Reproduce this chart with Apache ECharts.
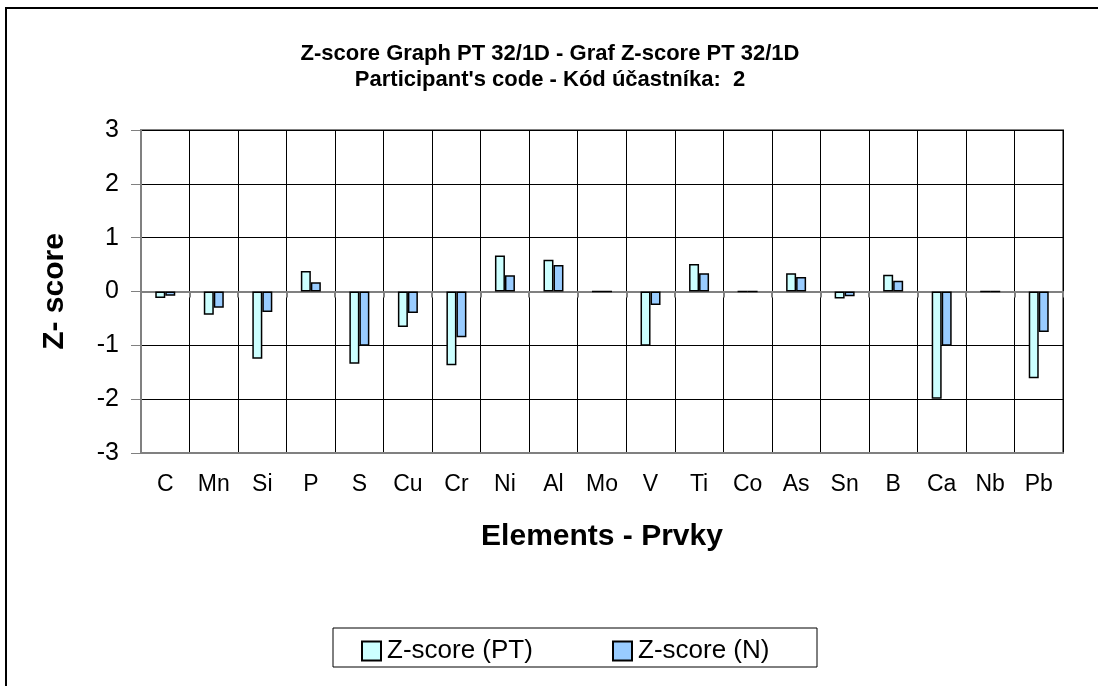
<!DOCTYPE html>
<html>
<head>
<meta charset="utf-8">
<script src="https://cdn.jsdelivr.net/npm/echarts@6/dist/echarts.min.js"></script>
<style>
html, body { margin: 0; padding: 0; background: #fff; }
#chart { width: 1098px; height: 686px; }
</style>
</head>
<body>
<div id="chart"></div>
<script>
const elements = ["C", "Mn", "Si", "P", "S", "Cu", "Cr", "Ni", "Al", "Mo", "V", "Ti", "Co", "As", "Sn", "B", "Ca", "Nb", "Pb"];
const zscorePT = [-0.12, -0.43, -1.25, 0.38, -1.34, -0.66, -1.37, 0.67, 0.59, 0, -1.01, 0.51, 0, 0.34, -0.13, 0.31, -1.99, 0, -1.61];
const zscoreN = [-0.08, -0.30, -0.38, 0.17, -1.01, -0.40, -0.85, 0.30, 0.49, 0, -0.25, 0.34, 0, 0.27, -0.09, 0.20, -1.01, 0, -0.75];
const yTicks = [-3, -2, -1, 0, 1, 2, 3];

const font = "Liberation Sans, Arial, sans-serif";
const chart = echarts.init(document.getElementById("chart"));

const legendText = {
	fontFamily: font,
	fontSize: 26,
	color: "#000",
	padding: [0, 0, 0, 1]
};

chart.setOption({
	animation: false,
	title: {
		text: "Z-score Graph PT 32/1D - Graf Z-score PT 32/1D\nParticipant's code - Kód účastníka:  2",
		left: 545,
		textAlign: "center",
		top: 36,
		textStyle: {
			fontFamily: font,
			fontSize: 22,
			fontWeight: "bold",
			color: "#000",
			lineHeight: 26
		}
	},
	graphic: [
		{
			type: "rect",
			shape: { x: 6, y: 8, width: 1120, height: 720 },
			style: { fill: null, stroke: "#000", lineWidth: 2 },
			silent: true
		},
		{
			type: "rect",
			shape: { x: 333, y: 628, width: 484, height: 39 },
			style: { fill: null, stroke: "#000", lineWidth: 1 },
			silent: true
		}
	],
	legend: [
		{
			left: 356,
			top: 633,
			itemWidth: 19,
			itemHeight: 19,
			icon: "rect",
			textStyle: legendText,
			data: ["Z-score (PT)"]
		},
		{
			left: 607,
			top: 633,
			itemWidth: 19,
			itemHeight: 19,
			icon: "rect",
			textStyle: legendText,
			data: ["Z-score (N)"]
		}
	],
	grid: {
		left: 141,
		top: 130,
		right: 35,
		bottom: 233,
		show: true,
		borderColor: "#808080",
		borderWidth: 2
	},
	xAxis: [
		{
			type: "category",
			data: elements,
			position: "bottom",
			name: "Elements - Prvky",
			nameLocation: "middle",
			nameGap: 69,
			nameTextStyle: {
				fontFamily: font,
				fontSize: 30,
				fontWeight: "bold",
				color: "#000"
			},
			axisLine: { onZero: false, lineStyle: { color: "#808080", width: 2 } },
			axisTick: { show: false },
			axisLabel: {
				fontFamily: font,
				fontSize: 23,
				color: "#000",
				margin: 20,
				interval: 0
			},
			splitLine: { show: true, interval: 0, lineStyle: { color: "#000", width: 1 } }
		},
		{
			type: "category",
			data: elements,
			position: "bottom",
			axisLine: { onZero: true, lineStyle: { color: "#808080", width: 2 } },
			axisTick: { show: true, length: 6, interval: 0, lineStyle: { color: "#808080", width: 2 } },
			axisLabel: { show: false },
			splitLine: { show: false }
		}
	],
	yAxis: {
		type: "value",
		min: -3,
		max: 3,
		interval: 1,
		name: "Z- score",
		nameLocation: "middle",
		nameRotate: 90,
		nameGap: 71,
		nameTextStyle: {
			fontFamily: font,
			fontSize: 30,
			fontWeight: "bold",
			color: "#000"
		},
		axisLine: { show: true, lineStyle: { color: "#808080", width: 2 } },
		axisTick: { show: true, length: 10, lineStyle: { color: "#808080", width: 1 } },
		axisLabel: {
			fontFamily: font,
			fontSize: 25,
			color: "#000",
			margin: 22,
			formatter: v => yTicks.includes(v) ? String(v) : ""
		},
		splitLine: { show: true, lineStyle: { color: "#000", width: 1 } }
	},
	series: [
		{
			name: "Z-score (PT)",
			type: "bar",
			data: zscorePT,
			barWidth: 10,
			barGap: "0%",
			itemStyle: { color: "#CCFFFF", borderColor: "#000", borderWidth: 1.5 }
		},
		{
			name: "Z-score (N)",
			type: "bar",
			data: zscoreN,
			barWidth: 10,
			barGap: "0%",
			itemStyle: { color: "#99CCFF", borderColor: "#000", borderWidth: 1.5 }
		}
	]
});
</script>
</body>
</html>
